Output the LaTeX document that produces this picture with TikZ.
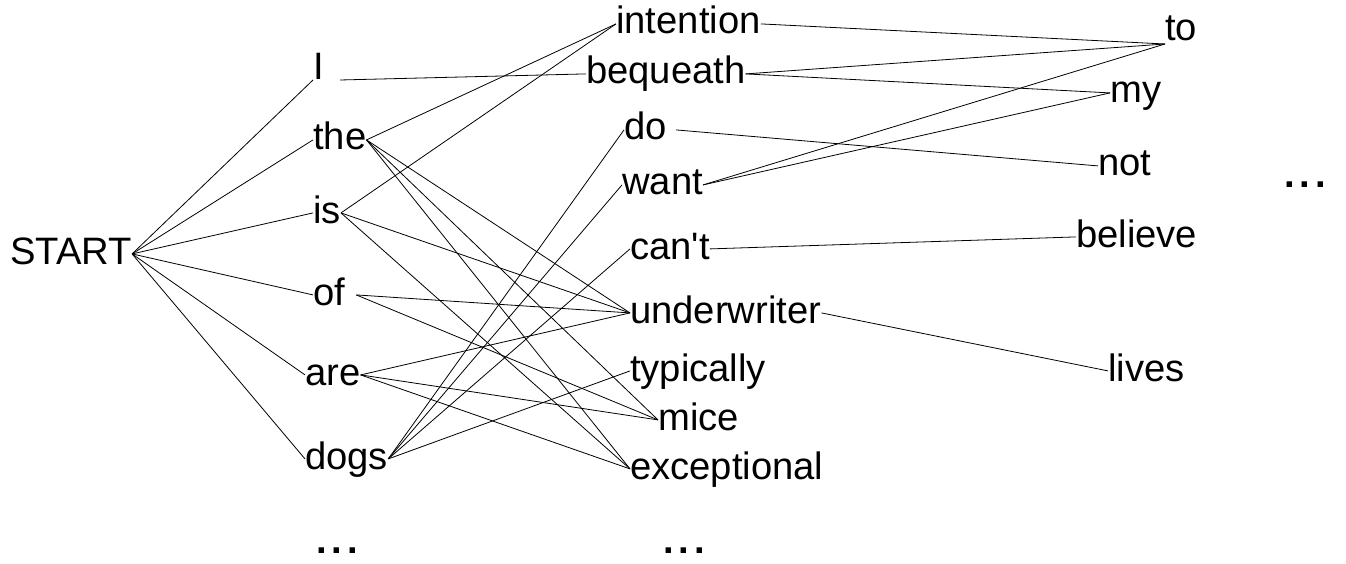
\documentclass[tikz,border=0pt]{standalone}
\usepackage{fontspec}
\setmainfont{Liberation Sans}
\newcommand{\mydots}{\bfseries.\kern5pt.\kern5pt.}
\begin{document}
\begin{tikzpicture}[x=1pt,y=-1pt,
  word/.style={inner sep=0pt, anchor=base west},
  link/.style={line width=0.8pt, black}]
\fontsize{38.2}{40}\selectfont
\useasboundingbox (0,0) rectangle (1346,564);
% column 0
\node[word] (start) at (10,264) {START};
% column 1
\node[word] (I) at (313,80) {I};
\node[word] (the) at (313,150) {the};
\node[word] (is) at (313,223) {is};
\node[word] (of) at (313,305) {of};
\node[word] (are) at (305,385) {are};
\node[word] (dogs) at (305,469) {dogs};
\node[word] (dotsA) at (316,553) {\mydots};
% column 2
\node[word] (intention) at (616,34) {intention};
\node[word] (bequeath) at (586,84) {bequeath};
\node[word] (do) at (624,140) {do};
\node[word] (want) at (622,195) {want};
\node[word] (cant) at (630,259) {can\textquotesingle t};
\node[word] (underwriter) at (630,323) {underwriter};
\node[word] (typically) at (630,381) {typically};
\node[word] (mice) at (658,430) {mice};
\node[word] (exceptional) at (630,479) {exceptional};
\node[word] (dotsB) at (663,553) {\mydots};
% column 3
\node[word] (to) at (1165,41) {to};
\node[word] (my) at (1110,103) {my};
\node[word] (not) at (1098,176) {not};
\node[word] (believe) at (1076,247) {believe};
\node[word] (lives) at (1108,381) {lives};
\node[word] (dotsC) at (1284,188) {\mydots};
% START edges
\draw[link] (start.mid east) -- (I.base west);
\foreach \w in {the,is,of,are,dogs}
  \draw[link] (start.mid east) -- (\w.mid west);
% column 1 -> column 2
\draw[link] ([xshift=16pt]I.base east) -- (bequeath.mid west);
\foreach \w in {intention,underwriter,mice,exceptional}
  \draw[link] (the.mid east) -- (\w.mid west);
\foreach \w in {intention,underwriter,exceptional}
  \draw[link] (is.mid east) -- (\w.mid west);
\foreach \w in {underwriter,mice}
  \draw[link] ([xshift=11pt]of.mid east) -- (\w.mid west);
\foreach \w in {underwriter,mice,exceptional}
  \draw[link] (are.mid east) -- (\w.mid west);
\foreach \w in {do,want,cant,typically}
  \draw[link] (dogs.mid east) -- (\w.mid west);
% column 2 -> column 3
\coordinate (toin) at ([yshift=-3pt]to.base west);
\draw[link] (intention.mid east) -- (toin);
\draw[link] (bequeath.mid east) -- (toin);
\draw[link] (bequeath.mid east) -- (my.mid west);
\draw[link] (want.mid east) -- (toin);
\draw[link] (want.mid east) -- (my.mid west);
\draw[link] ([xshift=9pt]do.mid east) -- (not.mid west);
\draw[link] (cant.mid east) -- (believe.mid west);
\draw[link] (underwriter.mid east) -- (lives.mid west);
\end{tikzpicture}
\end{document}
